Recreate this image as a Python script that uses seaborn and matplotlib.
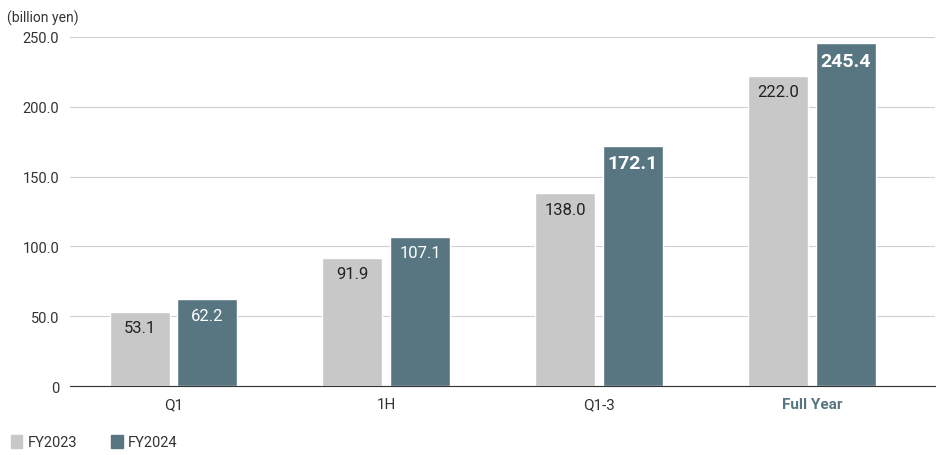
import matplotlib
matplotlib.use("Agg")
import matplotlib.pyplot as plt
import seaborn as sns
import pandas as pd

categories = ["Q1", "1H", "Q1-3", "Full Year"]
fy2023 = [53.1, 91.9, 138.0, 222.0]
fy2024 = [62.2, 107.1, 172.1, 245.4]
series = ["FY2023", "FY2024"]
colors = ["#c8c8c8", "#587682"]

df = pd.DataFrame({
    "cat": categories * 2,
    "val": fy2023 + fy2024,
    "series": [series[0]] * 4 + [series[1]] * 4,
})

sns.set_style("white")
plt.rcParams["font.family"] = ["Roboto", "DejaVu Sans"]

fig = plt.figure(figsize=(9.36, 4.56), dpi=100)
ax = fig.add_axes([0.075, 0.151, 0.924, 0.766])
sns.barplot(data=df, x="cat", y="val", hue="series", palette=colors,
            width=0.634, gap=0.111, ax=ax, legend=False, saturation=1)

ax.set_xlim(-0.484, 3.577)
ax.set_ylim(0, 250)
ax.set_yticks([0, 50, 100, 150, 200, 250])
ax.set_yticklabels(["0", "50.0", "100.0", "150.0", "200.0", "250.0"], fontsize=10.5, color="#333333")
ax.yaxis.grid(True, color="#d0d0d0", linewidth=0.8)
ax.set_axisbelow(True)
for s in ["top", "right", "left"]:
    ax.spines[s].set_visible(False)
ax.spines["bottom"].set_color("#333333")
ax.tick_params(axis="both", length=0, pad=8)
ax.set_xlabel("")
ax.set_ylabel("")
for i, lbl in enumerate(ax.get_xticklabels()):
    lbl.set_fontsize(11)
    if i == 3:
        lbl.set_color("#587682")
        lbl.set_fontweight("bold")
    else:
        lbl.set_color("#333333")

for ci, cont in enumerate(ax.containers):
    for j, bar in enumerate(cont):
        v = (fy2023 if ci == 0 else fy2024)[j]
        bold = ci == 1 and j >= 2
        ax.text(bar.get_x() + bar.get_width() / 2, v - 6, f"{v:.1f}",
                ha="center", va="top", fontsize=14 if bold else 12,
                fontweight="bold" if bold else "normal",
                color="#222222" if ci == 0 else "white")

fig.text(0.008, 0.96, "(billion yen)", fontsize=10, color="#333333", va="center")
for k, (name, c) in enumerate(zip(series, colors)):
    x0 = 0.012 + k * 0.107
    fig.patches.append(plt.Rectangle((x0, 0.015), 0.012, 0.028, color=c,
                                     transform=fig.transFigure, figure=fig))
    fig.text(x0 + 0.018, 0.029, name, fontsize=10.5, color="#333333", va="center")

fig.savefig("out.png", dpi=100)
